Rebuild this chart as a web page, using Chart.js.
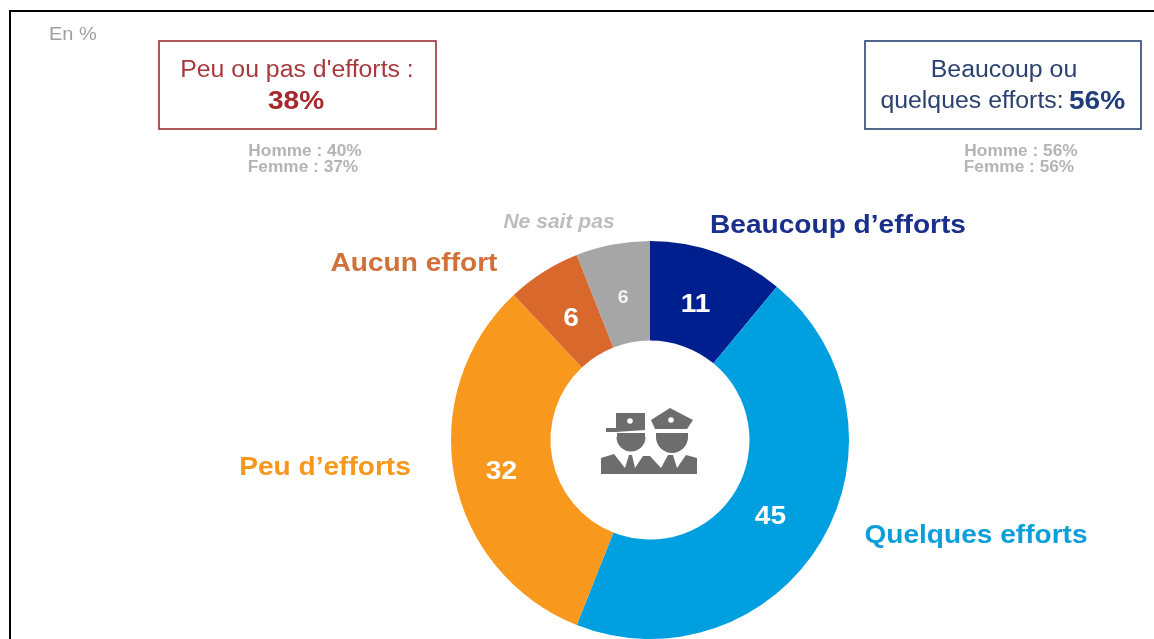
<!DOCTYPE html>
<html><head><meta charset="utf-8">
<style>html,body{margin:0;padding:0;background:#fff}canvas{display:block}</style>
<script src="https://cdn.jsdelivr.net/npm/chart.js@4"></script></head>
<body><canvas id="c" width="1154" height="639"></canvas>
<script>
const categories=["Beaucoup d’efforts","Quelques efforts","Peu d’efforts","Aucun effort","Ne sait pas"];
const values=[11,45,32,6,6];
const colors=["#001f8e","#009fdf","#f8981d","#d9682d","#a6a6a6"];
const F='"Liberation Sans"';
const SX=1.08;
const catStyle=[
 {x:838,y:226,c:"#1a2f8c",f:"bold 26px "+F},
 {x:976,y:536,c:"#0a9fdb",f:"bold 26px "+F},
 {x:325,y:468,c:"#f7981d",f:"bold 26px "+F},
 {x:414,y:264,c:"#d2703a",f:"bold 26px "+F},
 {x:559,y:223,c:"#bdbdbd",f:"italic bold 19.5px "+F}];
const valStyle=[
 {dx:-5,dy:5,f:"bold 26px "+F},{dx:-8,dy:1,f:"bold 26px "+F},{dx:-2,dy:4,f:"bold 26px "+F},
 {dx:1,dy:5,f:"bold 26px "+F},{dx:1,dy:5,f:"bold 18px "+F}];
function txt(g,s,x,y,f,c,a){g.save();g.translate(x,y);g.scale(SX,1);g.font=f;g.fillStyle=c;g.textAlign=a||"center";g.textBaseline="middle";g.fillText(s,0,0);g.restore();}
const deco={id:"deco",
 beforeDraw(ch){const g=ch.ctx;g.save();
  g.fillStyle="#000";g.fillRect(9,10,1145,2);g.fillRect(9,10,2,629);
  txt(g,"En %",49,35,"18.5px "+F,"#a0a0a0","left");
  g.lineWidth=1.6;
  g.strokeStyle="#9a2f33";g.strokeRect(159,41,277,88);
  g.strokeStyle="#2b4170";g.strokeRect(865,41,276,88);
  txt(g,"Peu ou pas d'efforts :",297,71,"23px "+F,"#a5393c");
  txt(g,"38%",296,102,"bold 26px "+F,"#a5282c");
  txt(g,"Beaucoup ou",1004,71,"23px "+F,"#2b4170");
  txt(g,"quelques efforts:",972,102,"23px "+F,"#2b4170");
  txt(g,"56%",1097,102,"bold 26px "+F,"#1f3c78");
  const gr="#b4b4b4",gf="bold 16px "+F;
  txt(g,"Homme : 40%",305,152,gf,gr);txt(g,"Femme : 37%",303,168,gf,gr);
  txt(g,"Homme : 56%",1021,152,gf,gr);txt(g,"Femme : 56%",1019,168,gf,gr);
  g.restore();},
 afterDatasetsDraw(ch){const g=ch.ctx;g.save();
  ch.getDatasetMeta(0).data.forEach((a,i)=>{const p=a.getCenterPoint(),s=valStyle[i];
   txt(g,String(values[i]),p.x+s.dx,p.y+s.dy,s.f,i==4?"#f2f2f2":"#fff");
   const k=catStyle[i];txt(g,categories[i],k.x,k.y,k.f,k.c);});
  /* police officers icon */
  const ic="#6d6d6d";g.fillStyle=ic;
  const poly=(pts,c)=>{g.fillStyle=c||ic;g.beginPath();pts.forEach((q,i)=>i?g.lineTo(q[0],q[1]):g.moveTo(q[0],q[1]));g.closePath();g.fill();};
  poly([[616,413],[645,413],[645,428],[616,428]]);
  poly([[606,428],[645,428],[645,430],[616,432],[606,432]]);
  g.fillRect(617,433,28,6);
  g.beginPath();g.arc(631,437,14.5,0,Math.PI);g.fill();
  poly([[651,420],[670,408],[693,420],[687,429],[655,429]]);
  g.fillRect(656,433,32,6);
  g.beginPath();g.arc(672,437,16,0,Math.PI);g.fill();
  poly([[601,458],[614,454],[625,468],[629,455],[632,455],[635,468],[643,456],[650,456],[661,468],[668,455],[673,455],[677,468],[686,455],[697,458],[697,474],[601,474]]);
  g.fillStyle="#fff";
  g.beginPath();g.arc(630,421,2.8,0,7);g.fill();
  g.beginPath();g.arc(671,420,2.8,0,7);g.fill();
  g.restore();}};
new Chart(document.getElementById("c"),{type:"doughnut",
 data:{labels:categories,datasets:[{data:values,backgroundColor:colors,borderWidth:0}]},
 options:{responsive:false,animation:false,cutout:"50%",rotation:0,
  layout:{padding:{left:451,right:305,top:241,bottom:0}},
  plugins:{legend:{display:false},tooltip:{enabled:false},title:{display:false}}},
 plugins:[deco]});
</script></body></html>
